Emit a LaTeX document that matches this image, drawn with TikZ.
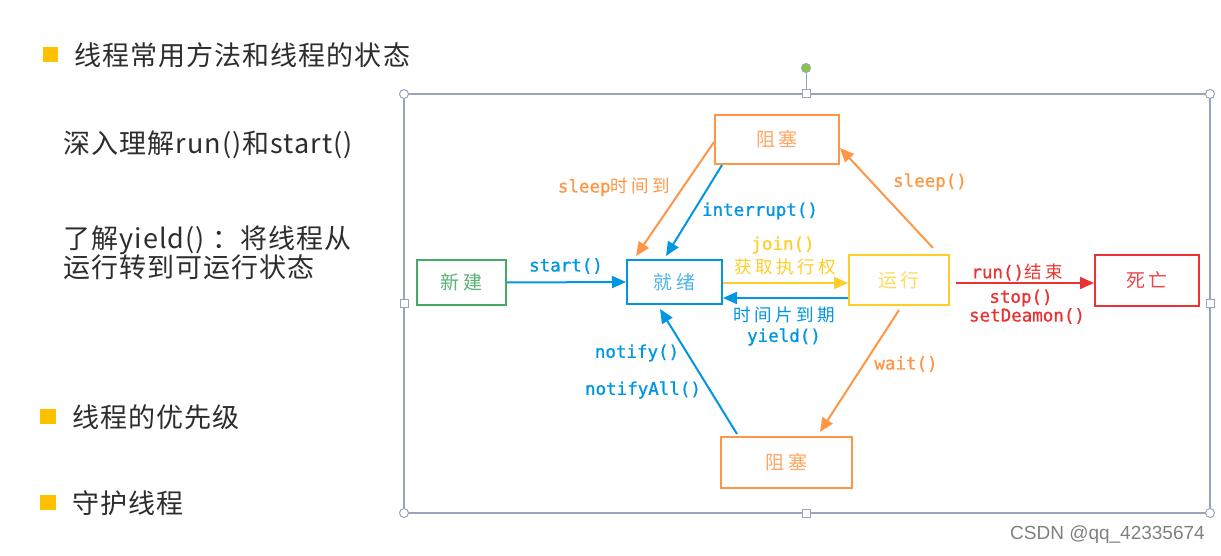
\documentclass[tikz,border=0pt]{standalone}
\usepackage{fontspec}
\setmainfont{Noto Sans CJK SC}
\newfontfamily\cjksp[LetterSpace=4]{Noto Sans CJK SC}
\newfontfamily\cjkwide[LetterSpace=20]{Noto Sans CJK SC}
\newfontfamily\monofont[FakeBold=1]{DejaVu Sans Mono}
\newfontfamily\wmfont{Liberation Sans}
\usetikzlibrary{arrows.meta}
\definecolor{cgreen}{RGB}{70,170,100}
\definecolor{cblue}{RGB}{0,150,225}
\definecolor{corange}{RGB}{255,150,70}
\definecolor{cyellow}{RGB}{255,205,40}
\definecolor{cred}{RGB}{235,50,50}
\definecolor{cframe}{RGB}{150,165,185}
\definecolor{cbullet}{RGB}{255,192,0}
\definecolor{ctext}{RGB}{45,45,45}
\definecolor{chandle}{RGB}{140,200,60}
\tikzset{
  statebox/.style={draw=#1, line width=2pt, inner sep=0pt, fill=white,
    font=\cjkwide\fontsize{19}{22}\selectfont},
  arr/.style={line width=2pt, -{Triangle[length=14pt,width=12pt]}},
  lab/.style={inner sep=0pt, font=\fontsize{17.5}{20}\selectfont\monofont},
  clab/.style={inner sep=0pt, font=\cjkwide\fontsize{17.5}{20}\selectfont},
  bodytext/.style={anchor=west, inner sep=0pt, text=ctext, font=\cjksp\fontsize{27}{32}\selectfont},
  bullet/.style={fill=cbullet, draw=none},
  handlec/.style={draw=cframe, fill=white, line width=1pt},
}
\begin{document}
\begin{tikzpicture}[x=1pt,y=-1pt]
\useasboundingbox (0,0) rectangle (1221,556);

% left text
\fill[bullet] (43,47) rectangle (58,62);
\node[bodytext] (t1) at (74,55) {线程常用方法和线程的状态};
\node[bodytext] (t2) at (63,145) {深入理解run()和start()};
\node[bodytext] (t3) at (63,240) {了解yield() ：将线程从};
\node[bodytext] (t4) at (63,267) {运行转到可运行状态};
\fill[bullet] (40,409) rectangle (56,424);
\node[bodytext] (t5) at (72,417) {线程的优先级};
\fill[bullet] (40,495) rectangle (56,510);
\node[bodytext] (t6) at (72,503) {守护线程};

% selection frame
\draw[cframe, line width=1.2pt] (404,94) rectangle (1210,513);
\draw[cframe, line width=1pt] (806,90) -- (806,72);
\filldraw[fill=chandle, draw=cframe, line width=1pt] (806,68) circle (4.5pt);
\foreach \p in {(404,94),(1210,94),(404,513),(1210,513)}
  \draw[handlec] \p circle (4.5pt);
\foreach \p in {(806,94),(806,513),(404,303),(1210,303)}
  \draw[handlec] \p ++(-4,-4) rectangle ++(8,8);

% states
\node[statebox=cgreen, minimum width=89pt, minimum height=45pt, text=cgreen!90!white] (new) at (461.5,282.5) {新建};
\node[statebox=cblue, minimum width=95pt, minimum height=44pt, text=cblue!70!white] (ready) at (674.5,282) {就绪};
\node[statebox=corange, minimum width=124pt, minimum height=49pt, text=corange!85!white] (blockT) at (777,139.5) {阻塞};
\node[statebox=cyellow, minimum width=100pt, minimum height=50pt, text=cyellow!75!white] (run) at (899,280) {运行};
\node[statebox=cred, minimum width=104pt, minimum height=51pt, text=cred!90!white] (dead) at (1147,280.5) {死亡};
\node[statebox=corange, minimum width=131pt, minimum height=51pt, text=corange!85!white] (blockB) at (786.5,462.5) {阻塞};

% transitions
\draw[arr, cblue] (new.east) -- (ready.west);
\draw[arr, corange] ([yshift=-2.5pt]blockT.west) -- ([xshift=10pt,yshift=3pt]ready.north west);
\draw[arr, cblue] ([xshift=8pt]blockT.south west) -- ([xshift=40pt,yshift=3pt]ready.north west);
\draw[arr, cyellow] ([yshift=-1pt]ready.east) -- ([yshift=-3pt]run.west);
\draw[arr, cblue] ([yshift=-18pt]run.west) -- ([yshift=-16pt]ready.east);
\draw[arr, corange] ([xshift=-17pt,yshift=6pt]run.north east) -- ([yshift=-8.5pt]blockT.east);
\draw[arr, cred, shorten <=6pt] ([yshift=-3pt]run.east) -- ([yshift=-2.5pt]dead.west);
\draw[arr, corange] ([yshift=-4pt]run.south) -- ([xshift=33.5pt,yshift=4pt]blockB.north);
\draw[arr, cblue] ([xshift=-49.5pt,yshift=2pt]blockB.north) -- ([xshift=-14.5pt,yshift=-4pt]ready.south);

% labels
\node[lab, text=cblue] (lstart) at (566,266) {start()};
\node[lab, text=corange] (lsleepto) at (614,187) {sleep{\cjkwide 时间到}};
\node[lab, text=cblue] (lint) at (760,211) {interrupt()};
\node[lab, text=cyellow] (ljoin) at (783,245) {join()};
\node[clab, text=cyellow] (lget) at (785,267) {获取执行权};
\node[clab, text=cblue] (lslice) at (784,315) {时间片到期};
\node[lab, text=cblue] (lyield) at (784,337) {yield()};
\node[lab, text=corange] (lsleep) at (930,182) {sleep()};
\node[lab, text=cred] (lrunend) at (1017,272) {run(){\cjkwide 结束}};
\node[lab, text=cred] (lstop) at (1021,298) {stop()};
\node[lab, text=cred] (lsetd) at (1027,316) {setDeamon()};
\node[lab, text=corange] (lwait) at (906,364) {wait()};
\node[lab, text=cblue] (lnotify) at (637,353) {notify()};
\node[lab, text=cblue] (lnotifyall) at (643,390) {notifyAll()};

% watermark
\node[anchor=east, inner sep=0pt, text=black!50, font=\wmfont\fontsize{19}{22}\selectfont] (wm) at (1205,535) {CSDN @qq\_42335674};
\end{tikzpicture}
\end{document}
